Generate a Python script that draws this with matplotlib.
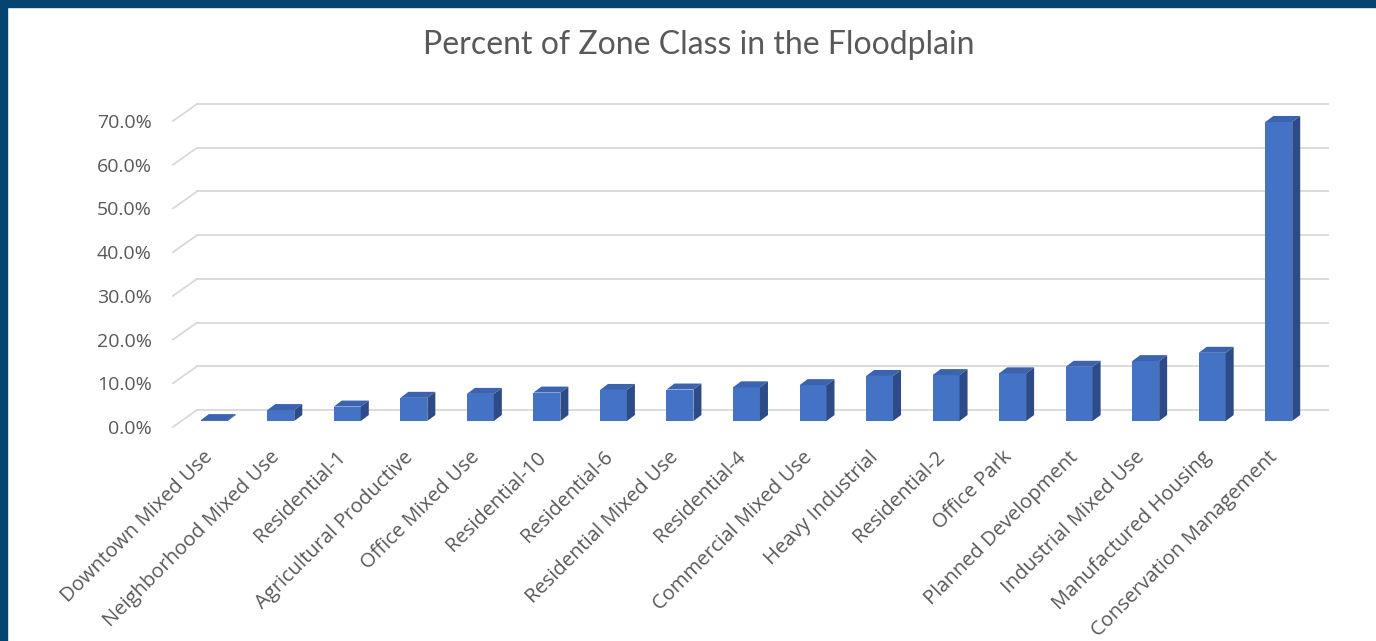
import matplotlib
matplotlib.use("Agg")
import matplotlib.pyplot as plt
from matplotlib.patches import Rectangle
from matplotlib.transforms import ScaledTranslation

# Data (percent of zone class in floodplain)
zones = [
    "Downtown Mixed Use", "Neighborhood Mixed Use", "Residential-1",
    "Agricultural Productive", "Office Mixed Use", "Residential-10",
    "Residential-6", "Residential Mixed Use", "Residential-4",
    "Commercial Mixed Use", "Heavy Industrial", "Residential-2",
    "Office Park", "Planned Development", "Industrial Mixed Use",
    "Manufactured Housing", "Conservation Management",
]
percent = [0.2, 2.5, 3.3, 5.3, 6.2, 6.5, 7.1, 7.2, 7.7,
           8.2, 10.3, 10.5, 10.9, 12.4, 13.7, 15.6, 68.4]
yticks = [0, 10, 20, 30, 40, 50, 60, 70]

# Colours
front_c = "#4472C4"
top_c = "#3B63AE"
side_c = "#2D4C87"
grid_c = "#D9D9D9"
text_c = "#595959"
frame_c = "#044570"

W, H, DPI = 1376, 641, 100
fig = plt.figure(figsize=(W / DPI, H / DPI), dpi=DPI)
fig.patch.set_facecolor("white")

# dark frame band on top and left
fig.patches.append(Rectangle((0, 1 - 7 / H), 1, 7 / H, transform=fig.transFigure,
                             color=frame_c, zorder=0))
fig.patches.append(Rectangle((0, 0), 7 / W, 1, transform=fig.transFigure,
                             color=frame_c, zorder=0))

ax_l, ax_b, ax_w, ax_h = 181 / W, 220 / H, 1131 / W, 306 / H
ax = fig.add_axes([ax_l, ax_b, ax_w, ax_h])
ax.set_xlim(-0.5, len(zones) - 0.5)
ax.set_ylim(0, 70)
ax.patch.set_alpha(0)
for s in ax.spines.values():
    s.set_visible(False)

# pixels per data unit, to build the oblique depth effect
px_x = ax_w * W / len(zones)
px_y = ax_h * H / 70.0

def px(dx, dy):
    return dx / px_x, dy / px_y

# floor / back wall depth (pixels): front edge and back wall
fx, fy = px(-8, -6)
bx, by = px(16, 11)
x0, x1 = -0.5, len(zones) - 0.5
for v in yticks:
    ax.plot([x0 + bx, x1 + bx], [v + by, v + by], color=grid_c, lw=1.3,
            clip_on=False, zorder=1)
    ax.plot([x0 + fx, x0 + bx], [v + fy, v + by], color=grid_c, lw=1.3,
            clip_on=False, zorder=1)

# bars: front face + top + right side
bw = 0.405
dx, dy = px(8, 6)
xs = range(len(zones))
ax.bar(xs, percent, width=bw, color=front_c, zorder=3, clip_on=False)
for x, v in zip(xs, percent):
    l, r = x - bw / 2, x + bw / 2
    ax.fill([l, r, r + dx, l + dx], [v, v, v + dy, v + dy], color=top_c,
            zorder=3, clip_on=False, lw=0)
    ax.fill([r, r + dx, r + dx, r], [0, dy, v + dy, v], color=side_c,
            zorder=3, clip_on=False, lw=0)

# y tick labels
ax.set_yticks(yticks)
ax.set_yticklabels([f"{v:.1f}%" for v in yticks])
ax.tick_params(axis="y", length=0, pad=21, labelsize=14, labelcolor=text_c)
for lab in ax.get_yticklabels():
    lab.set_fontfamily("Open Sans")
    lab.set_transform(lab.get_transform() + ScaledTranslation(0, -0.06, fig.dpi_scale_trans))

# x tick labels
ax.set_xticks(list(xs))
ax.set_xticklabels(zones, rotation=45, ha="right", va="center", rotation_mode="anchor")
ax.tick_params(axis="x", length=0, pad=24, labelsize=14.5, labelcolor=text_c)
for lab in ax.get_xticklabels():
    lab.set_fontfamily("Open Sans")
    lab.set_transform(lab.get_transform() + ScaledTranslation(-0.04, 0, fig.dpi_scale_trans))

fig.text(699 / W, 1 - 45 / H, "Percent of Zone Class in the Floodplain",
         ha="center", va="center", fontsize=23, color=text_c, family="Lato")

fig.savefig("out.png", dpi=DPI, facecolor=fig.get_facecolor())
